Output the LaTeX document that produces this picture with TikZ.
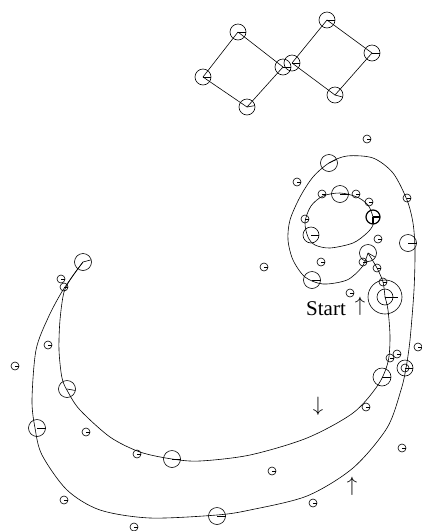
\documentclass[tikz,border=0pt]{standalone}
\usepackage{fontspec}
\setmainfont{Liberation Serif}
\tikzset{
  rob/.style={circle, draw, inner sep=0pt, outer sep=0pt},
  path/.style={line width=0.6pt},
  lbl/.style={font=\fontsize{21}{24}\selectfont, inner sep=0pt}
}
\newcommand\rb[5]{%
  \node[rob, minimum size=#4*2pt] (#1) at (#2,#3) {};
  \draw (#1.center) -- ++(#5:#4);}
\begin{document}
\begin{tikzpicture}[x=1pt,y=-1pt,line width=0.6pt]
\useasboundingbox (0,0) rectangle (422,531);
% ---- top squares ----
\rb{t1}{238}{32}{8}{0}
\rb{t2}{203}{77}{8}{0}
\rb{t3}{247}{107}{8}{-10}
\rb{t4}{283}{67}{8}{0}
\rb{t5}{292}{63}{8}{0}
\rb{t6}{327}{20}{8}{0}
\rb{t7}{372}{53}{8}{0}
\rb{t8}{335}{95}{8}{15}
\draw (t1.center) -- (t2.center) -- (t3.center) -- (t4.center) -- (t1.center);
\draw (t5.center) -- (t6.center) -- (t7.center) -- (t8.center) -- (t5.center);
% ---- curves ----
\draw[path] plot[smooth] coordinates {(368,253) (362,267) (347,280) (323,284) (305,277) (293,260) (288,240) (290,220) (300,197) (313,177) (329,163) (347,156) (373,158) (393,173) (407,200) (413,223) (415,250) (414,290) (410,340) (406,368) (401,390) (387,428) (353,468) (307,496) (250,510) (217,515) (150,518) (100,510) (67,490) (42,455) (35,428) (32,400) (36,350) (48,318) (63,290) (83,262)};
\draw[path] plot[smooth] coordinates {(83,262) (72,277) (64,292) (60,320) (59,350) (62,378) (68,392) (80,410) (110,437) (140,452) (172,459) (200,461) (250,455) (307,438) (353,413) (378,385) (388,362) (390,337) (388,310) (385,297)};
\draw[path] plot[smooth] coordinates {(385,297) (383,282) (377,268) (368,253)};
\draw[path] plot[smooth cycle] coordinates {(373,217) (368,205) (357,197) (340,193) (323,196) (311,206) (305,222) (308,237) (315,245) (330,248) (353,243) (367,233) (373,225)};
% ---- spiral region ----
\rb{s1}{329}{163}{8.5}{-25}
\rb{s2}{367}{139}{4}{0}
\rb{s3}{297}{182}{4}{0}
\rb{s4}{340}{194}{8.5}{0}
\rb{s5}{322}{194}{4}{0}
\rb{s6}{356}{194}{4}{0}
\rb{s7}{369}{202}{4}{0}
\begin{scope}[line width=1.2pt]
\rb{s8}{373}{217}{7}{0}
\draw (s8.center) -- ++(90:7);
\end{scope}
\rb{s9}{407}{198}{4}{0}
\rb{s10}{305}{219}{4}{0}
\rb{s11}{311}{235}{8}{0}
\rb{s12}{378}{239}{4}{0}
\rb{s13}{408}{243}{8.5}{0}
\rb{s14}{368}{253}{8.5}{30}
\rb{s15}{363}{262}{4}{0}
\rb{s16}{321}{262}{4}{0}
\rb{s17}{377}{268}{4}{0}
\rb{s18}{312}{280}{8.5}{0}
\rb{s19}{383}{282}{4}{0}
\rb{s20}{350}{293}{4}{0}
\rb{s21}{264}{267}{4}{0}
\node[rob, minimum size=34pt] (st) at (385,297) {};
\rb{sti}{385}{297}{8}{0}
\draw (sti.center) -- ++(0:13);
% ---- lower right ----
\rb{l1}{382}{377}{9}{0}
\rb{l2}{390}{358}{4}{0}
\rb{l3}{397}{354}{4}{0}
\rb{l4}{418}{347}{4}{0}
\rb{l5}{405}{368}{8}{0}
\node[rob, minimum size=8pt] (l5i) at (l5) {};
\rb{l6}{366}{407}{4}{0}
\rb{l7}{402}{448}{4}{0}
\rb{l8}{272}{471}{4}{0}
\rb{l9}{313}{503}{4}{0}
% ---- left ----
\rb{b1}{83}{262}{8.5}{-15}
\rb{b2}{61}{279}{4}{0}
\rb{b3}{64}{287}{4}{0}
\rb{b4}{48}{345}{4}{0}
\rb{b5}{15}{366}{4}{0}
\rb{b6}{67}{389}{8.5}{10}
\rb{b7}{37}{428}{8.5}{0}
\rb{b8}{86}{432}{4}{0}
\rb{b9}{137}{454}{4}{0}
\rb{b10}{172}{459}{8.5}{0}
\rb{b11}{64}{500}{4}{0}
\rb{b12}{134}{527}{4}{0}
\rb{b13}{217}{516}{8.5}{0}
% ---- labels ----
\node[lbl] (startlbl) at (326,309) {Start};
\node[lbl] (a1) at (360,306) {$\uparrow$};
\node[lbl] (a2) at (318,406) {$\downarrow$};
\node[lbl] (a3) at (352,486) {$\uparrow$};
\end{tikzpicture}
\end{document}
